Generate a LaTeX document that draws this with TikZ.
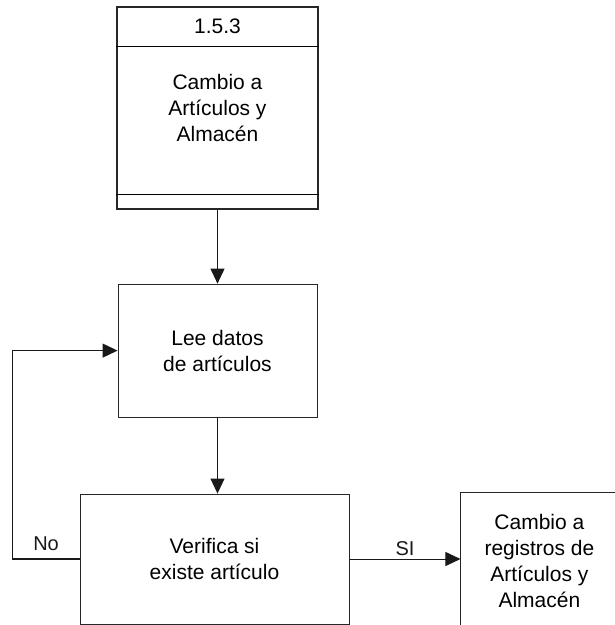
\documentclass[tikz,border=0pt]{standalone}
\usepackage{fontspec}
\setmainfont{Liberation Sans}
\usetikzlibrary{arrows.meta,positioning,calc}
\tikzset{
  basebox/.style={rectangle,draw=black!85,line width=0.9pt,align=center,
                  font=\fontsize{21}{26}\selectfont},
  procnode/.style={basebox,line width=1.3pt,minimum width=201pt,
                   minimum height=202pt},
  stepnode/.style={basebox,minimum width=199pt,minimum height=133pt},
  checknode/.style={basebox,minimum width=269pt,minimum height=130pt},
  outnode/.style={basebox,minimum width=157pt,minimum height=138pt},
  numtext/.style={font=\fontsize{21}{24}\selectfont},
  lbl/.style={font=\fontsize{20}{22}\selectfont,inner sep=2pt},
  arr/.style={-{Triangle[length=15pt,width=14pt]},line width=0.9pt,
              color=black!90}
}
\begin{document}
\begin{tikzpicture}
  \clip (0,0) rectangle (615pt,-625pt);
  \fill[white] (0,0) rectangle (615pt,-625pt);
  % process box with number and footer strips
  \node[procnode] (proc) at (217.5pt,-108pt)
      {Cambio a\\ Artículos y\\Almacén};
  \draw[line width=1pt] ($(proc.north west)+(0,-40pt)$)
      -- ($(proc.north east)+(0,-40pt)$);
  \draw[line width=1pt] ($(proc.south west)+(0,15pt)$)
      -- ($(proc.south east)+(0,15pt)$);
  \node[numtext] (procnum) at ($(proc.north)+(0,-20pt)$) {1.5.3};

  \node[stepnode,below=74pt of proc] (lee) {Lee datos\\de artículos};
  \node[checknode,below=76pt of lee,xshift=-3pt] (verif)
      {Verifica si\\existe artículo};
  \node[outnode,right=111pt of verif,yshift=-2pt] (upd)
      {Cambio a\\registros de\\Artículos y\\Almacén};

  \draw[arr] (proc) -- (lee);
  \draw[arr] (lee.south) -- (lee.south |- verif.north);
  \draw[arr] (verif.east) -- (verif.east -| upd.west)
      node[midway,above=1pt,lbl]{SI};
  \draw[arr,line width=1.2pt] (verif.west) -- ++(-67pt,0)
      node[midway,above=6pt,lbl]{No} |- (lee.west);
\end{tikzpicture}
\end{document}
